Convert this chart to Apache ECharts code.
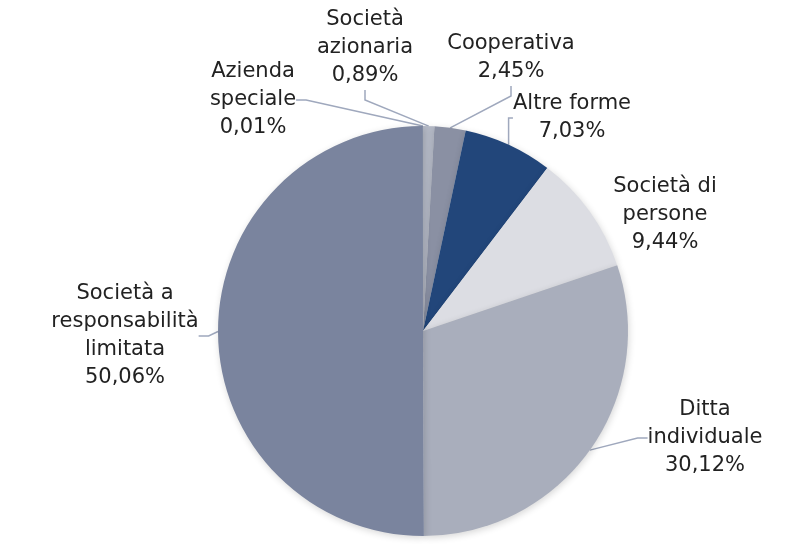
<!DOCTYPE html>
<html><head><meta charset="utf-8">
<script src="https://cdn.jsdelivr.net/npm/echarts@6/dist/echarts.min.js"></script>
<style>html,body{margin:0;padding:0;background:#fff}#c{width:786px;height:544px}</style>
</head><body><div id="c"></div>
<script>
const categories = ["Società azionaria","Cooperativa","Altre forme","Società di persone","Ditta individuale","Società a responsabilità limitata","Azienda speciale"];
const labelNames = ["Società\nazionaria","Cooperativa","Altre forme","Società di\npersone","Ditta\nindividuale","Società a\nresponsabilità\nlimitata","Azienda\nspeciale"];
const values = [0.89, 2.45, 7.03, 9.44, 30.12, 50.06, 0.01];
const colors = ["#b3b8c5","#8a90a3","#22467a","#dcdde3","#a9aebc","#7a849e","#5a6580"];
const labelPos = [[365,48],[511,58],[572,118],[665,215],[705,438],[125,336],[253,100]];
const showLine = [true,true,true,false,true,true,true];

const chart = echarts.init(document.getElementById('c'));
chart.setOption({
  animation:false,
  series:[{
    type:'pie',
    center:[423,331],
    radius:205,
    startAngle:90,
    clockwise:true,
    avoidLabelOverlap:false,
    minShowLabelAngle:0,
    data: values.map((v,i)=>({value:v,name:categories[i],itemStyle:{color:colors[i]},labelLine:{show:showLine[i]}})),
    itemStyle:{borderWidth:0,shadowBlur:7,shadowColor:'rgba(0,0,0,0.16)',shadowOffsetX:1,shadowOffsetY:2},
    label:{
      show:true,
      position:'outside',
      formatter:p=>labelNames[p.dataIndex]+'\n'+values[p.dataIndex].toFixed(2).replace('.',',')+'%',
      fontFamily:'DejaVu Sans',
      fontSize:21,
      lineHeight:28,
      color:'#222222',
      align:'center'
    },
    labelLine:{show:true,length:10,length2:10,smooth:false,lineStyle:{color:'#9fa8bd',width:1.5}},
    labelLayout:p=>({x:labelPos[p.dataIndex][0],y:labelPos[p.dataIndex][1],align:'center',verticalAlign:'middle'})
  }]
});
</script></body></html>
